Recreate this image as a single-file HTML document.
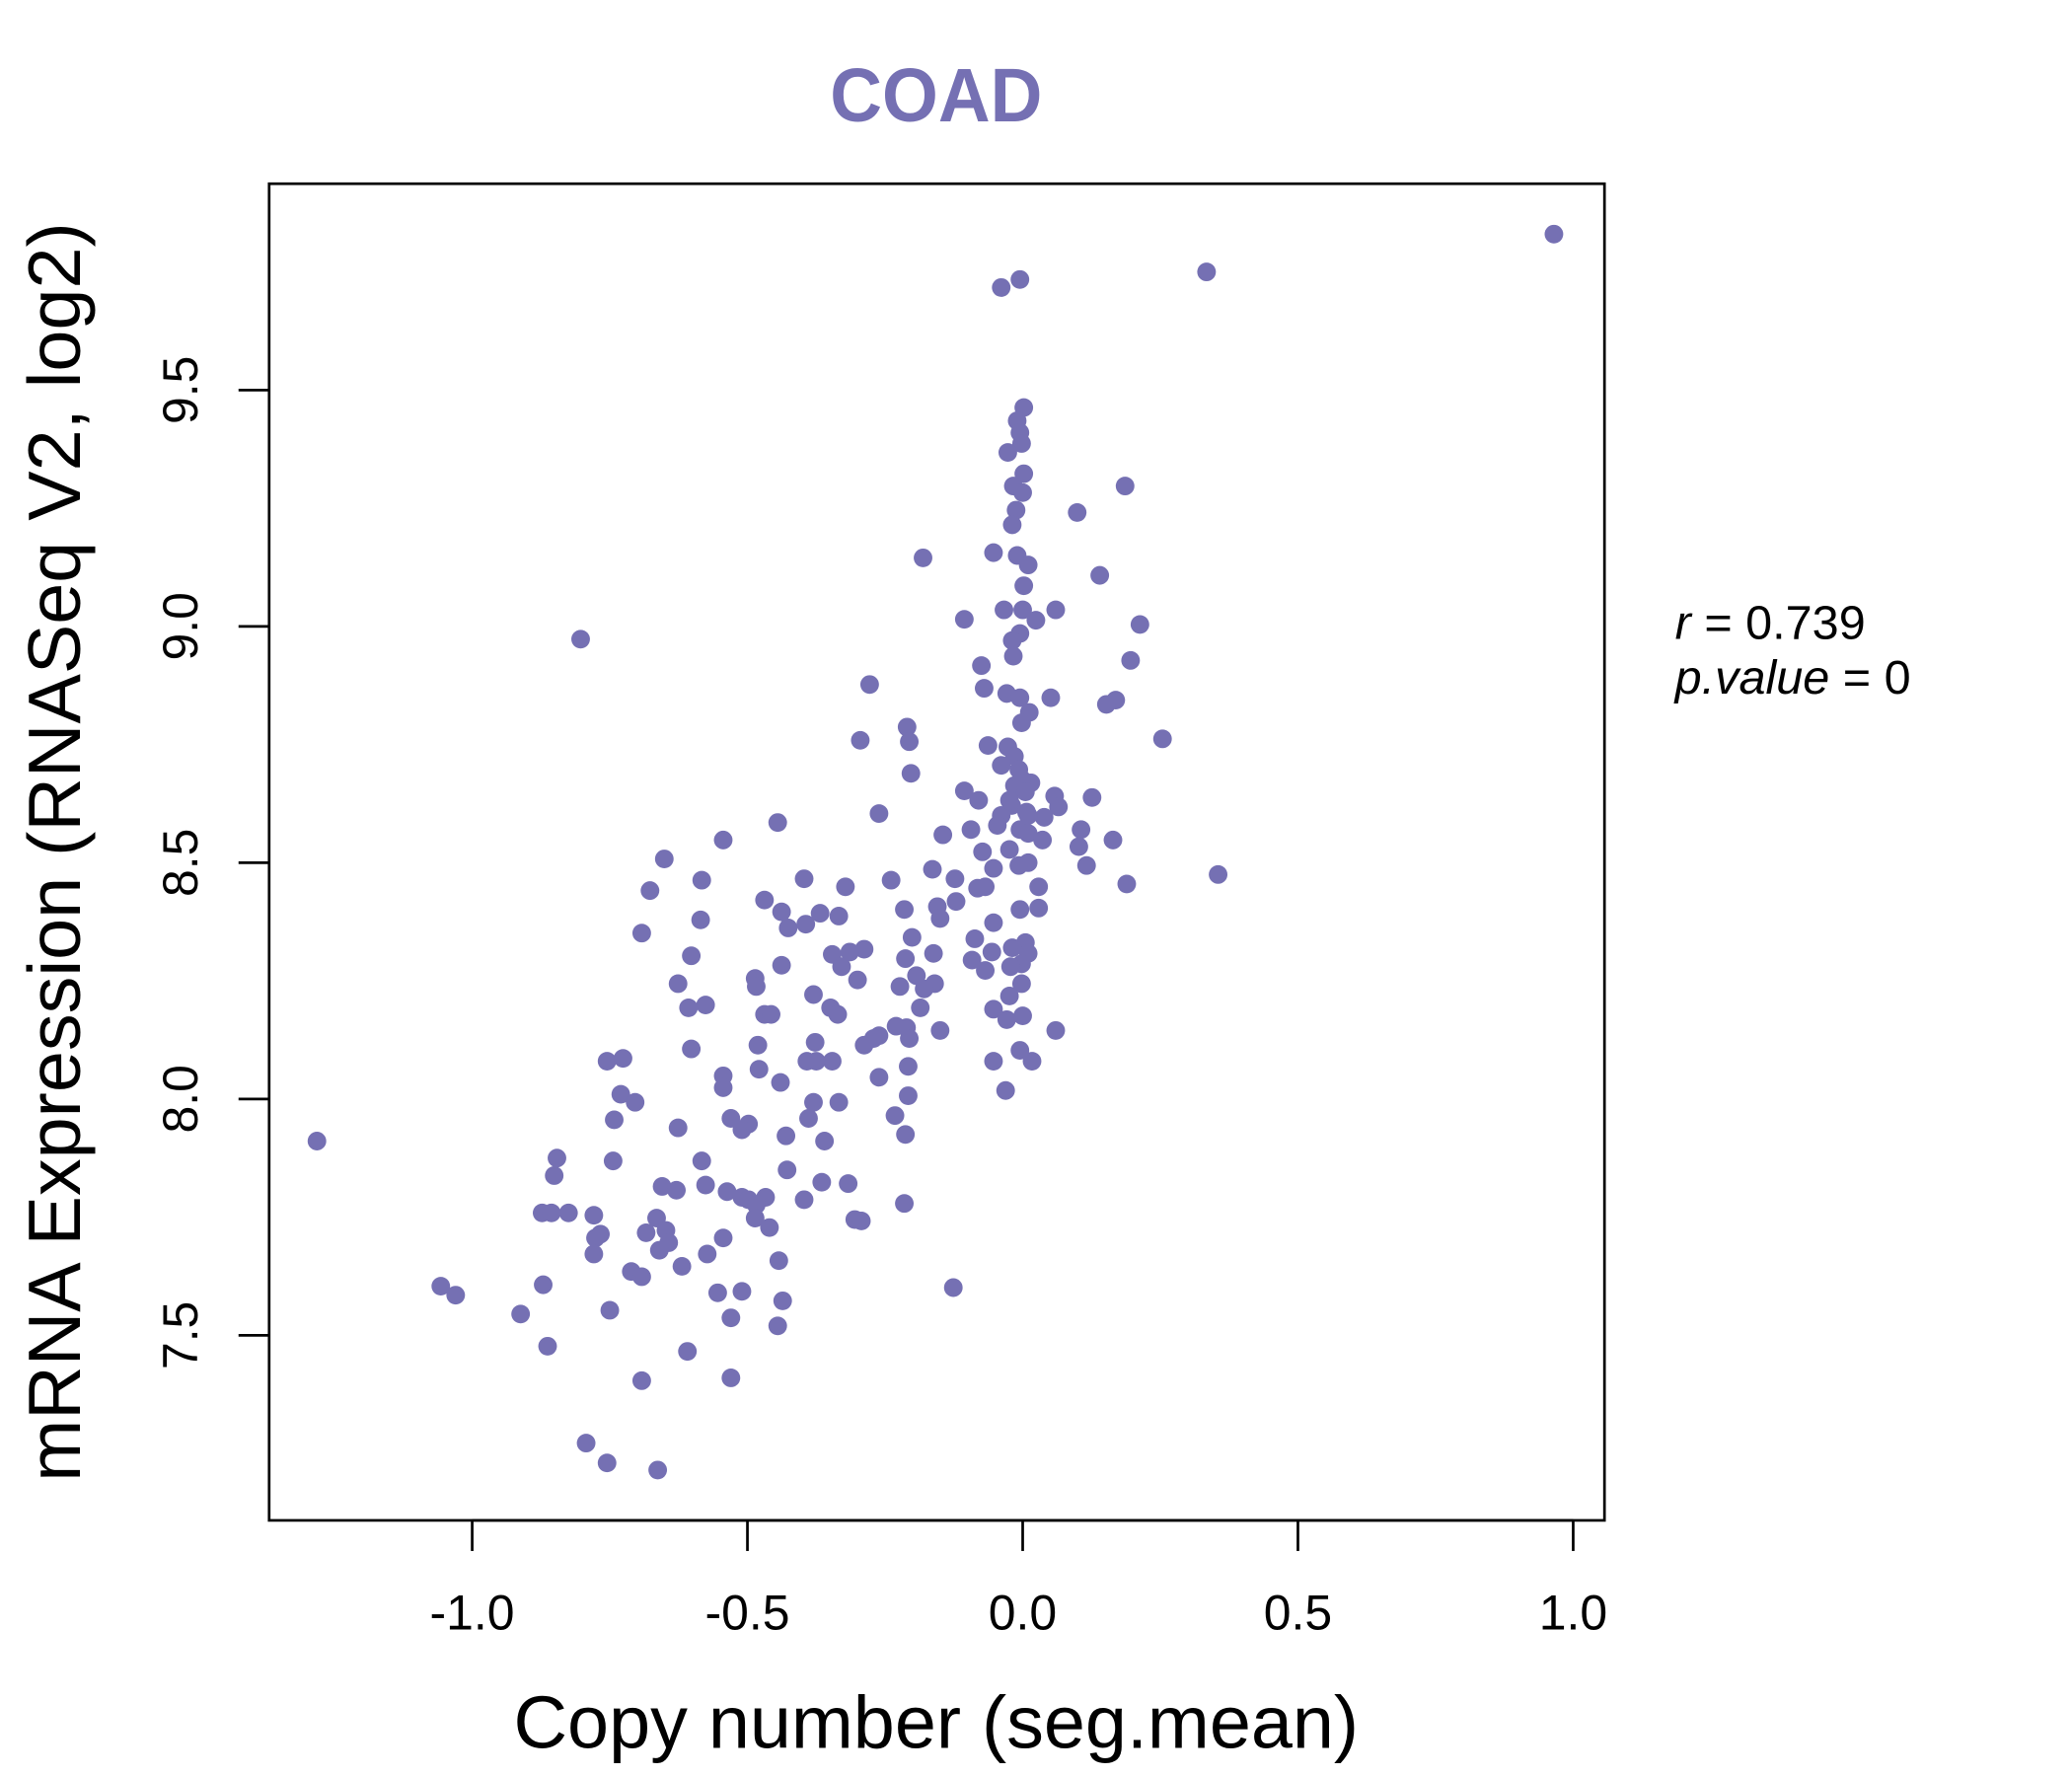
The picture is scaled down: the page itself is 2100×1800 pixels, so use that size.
<!DOCTYPE html>
<html><head><meta charset="utf-8"><style>html,body{margin:0;padding:0;background:#fff}svg{display:block}</style></head>
<body>
<svg id="chart" width="2100" height="1800" viewBox="0 0 1556 1334" xmlns="http://www.w3.org/2000/svg" font-family="Liberation Sans, sans-serif">
<rect width="1556" height="1334" fill="#fff"/>
<text x="703" y="91" text-anchor="middle" font-size="57" font-weight="bold" fill="#7570B3" transform="translate(703,0) scale(0.95,1) translate(-703,0)">COAD</text>
<rect x="202" y="138" width="1003" height="1004" fill="none" stroke="#000" stroke-width="2"/>
<g id="xaxis"></g>
<g id="yaxis"></g>
<g id="points"></g>
<text x="703" y="1313" text-anchor="middle" font-size="56">Copy number (seg.mean)</text>
<text transform="translate(60,640) rotate(-90)" text-anchor="middle" font-size="56">mRNA Expression (RNASeq V2, log2)</text>
<text x="1258" y="480" font-size="36"><tspan font-style="italic">r</tspan> = 0.739</text>
<text x="1258" y="521" font-size="36" font-style="italic">p.value <tspan font-style="normal">= 0</tspan></text>
</svg>
<script>
const xTicks = [-1.0, -0.5, 0.0, 0.5, 1.0];
const xTickLabels = ["-1.0", "-0.5", "0.0", "0.5", "1.0"];
const yTicks = [7.5, 8.0, 8.5, 9.0, 9.5];
const yTickLabels = ["7.5", "8.0", "8.5", "9.0", "9.5"];
const xs = [-1.282,0.965,0.334,-0.005,-0.039,-0.803,0.002,-0.01,-0.005,-0.002,-0.027,0.002,0.186,-0.017,0.0,-0.012,0.099,-0.019,-0.181,-0.053,-0.01,0.01,0.002,0.14,0.0,-0.106,-0.034,0.06,0.024,0.213,-0.005,-0.019,-0.017,0.196,-0.075,-0.278,-0.07,-0.029,-0.005,0.051,0.169,0.152,0.012,-0.002,-0.21,-0.206,-0.295,0.254,-0.063,-0.027,-0.015,-0.039,-0.007,-0.203,0.015,-0.015,-0.106,-0.08,0.058,-0.02,0.007,0.065,-0.039,0.126,-0.261,-0.445,0.039,-0.046,-0.094,-0.005,0.01,0.106,-0.145,0.164,-0.544,0.036,-0.024,-0.073,0.102,-0.651,0.01,0.116,-0.007,-0.053,-0.164,0.355,-0.397,-0.583,-0.239,0.189,-0.322,-0.068,0.029,-0.677,-0.123,-0.082,-0.469,-0.121,-0.155,-0.005,0.029,-0.215,-0.438,-0.368,-0.334,-0.15,-0.394,-0.585,-0.426,-0.053,-0.692,-0.201,-0.087,0.005,-0.019,-0.288,-0.314,0.01,-0.162,-0.056,-0.346,-0.602,-0.213,-0.092,-0.002,-0.022,-0.438,-0.068,-0.329,-0.3,-0.486,-0.626,-0.223,-0.160,-0.002,-0.484,-0.193,-0.024,-0.380,-0.179,-0.576,-0.607,-0.186,-0.349,-0.053,-0.469,-0.457,-0.336,0.0,-0.029,-0.23,-0.211,-0.150,0.06,-0.261,-0.271,-0.377,-0.206,-0.288,-0.481,-0.602,-0.005,-0.755,-0.726,-0.392,-0.346,0.017,-0.053,-0.375,-0.208,-0.479,-0.544,-0.44,-0.261,-0.544,-0.031,-0.73,-0.208,-0.704,-0.380,-0.334,-0.232,-0.742,-0.53,-0.389,-0.498,-0.510,-0.626,-0.43,-0.213,-0.36,-0.846,-0.744,-0.583,-0.428,-0.851,-0.317,-0.365,-0.655,-0.629,-0.576,-0.537,-0.510,-0.397,-0.467,-0.498,-0.215,-0.484,-0.873,-0.856,-0.825,-0.779,-0.665,-0.486,-0.305,-0.293,-0.46,-0.648,-0.684,-0.767,-0.643,-0.776,-0.544,-0.660,-0.779,-0.573,-0.443,-0.619,-0.711,-0.692,-0.126,-1.057,-0.871,-1.03,-0.554,-0.510,-0.436,-0.75,-0.912,-0.530,-0.445,-0.863,-0.609,-0.530,-0.692,-0.793,-0.755,-0.663,-0.002,0.005,-0.024,0.010];
const ys = [7.911,9.83,9.75,9.734,9.717,8.973,9.463,9.435,9.41,9.387,9.368,9.323,9.297,9.297,9.283,9.246,9.241,9.215,9.145,9.156,9.15,9.13,9.086,9.108,9.035,9.015,9.035,9.035,9.013,9.004,8.985,8.97,8.937,8.928,8.917,8.877,8.869,8.858,8.849,8.849,8.844,8.835,8.818,8.796,8.787,8.756,8.759,8.762,8.748,8.745,8.725,8.706,8.697,8.689,8.669,8.663,8.652,8.632,8.641,8.621,8.607,8.618,8.6,8.638,8.604,8.585,8.596,8.579,8.57,8.57,8.562,8.57,8.559,8.548,8.548,8.548,8.528,8.523,8.534,8.508,8.5,8.494,8.494,8.488,8.486,8.475,8.466,8.463,8.463,8.455,8.449,8.449,8.449,8.441,8.466,8.446,8.421,8.418,8.407,8.401,8.404,8.401,8.396,8.393,8.387,8.382,8.37,8.379,8.362,8.373,8.351,8.342,8.339,8.331,8.32,8.317,8.311,8.308,8.308,8.311,8.306,8.303,8.297,8.294,8.286,8.28,8.283,8.272,8.28,8.252,8.255,8.244,8.238,8.244,8.244,8.238,8.261,8.218,8.221,8.233,8.199,8.193,8.193,8.193,8.19,8.179,8.179,8.179,8.176,8.168,8.154,8.151,8.145,8.145,8.134,8.128,8.12,8.128,8.114,8.114,8.106,8.103,8.08,8.086,8.08,8.08,8.08,8.08,8.08,8.069,8.063,8.049,8.035,8.046,8.024,8.018,8.01,8.007,7.993,7.993,7.993,7.965,7.956,7.959,7.959,7.947,7.935,7.939,7.922,7.925,7.911,7.875,7.869,7.869,7.85,7.838,7.821,7.824,7.815,7.807,7.818,7.804,7.792,7.787,7.792,7.787,7.779,7.776,7.759,7.759,7.759,7.754,7.748,7.748,7.745,7.742,7.728,7.722,7.717,7.714,7.696,7.706,7.706,7.68,7.672,7.672,7.658,7.646,7.635,7.624,7.601,7.604,7.607,7.585,7.59,7.593,7.573,7.553,7.545,7.537,7.52,7.477,7.466,7.41,7.404,7.272,7.23,7.215,8.677,8.65,8.632,8.6];

const NS = "http://www.w3.org/2000/svg";
function sx(v){ return 768 + v * 413.5; }
function sy(v){ return 293 + (9.5 - v) * 355; }

const xg = document.getElementById('xaxis');
const yg = document.getElementById('yaxis');
const axisX = document.createElementNS(NS,'line');
axisX.setAttribute('x1', sx(xTicks[0])); axisX.setAttribute('x2', sx(xTicks[xTicks.length-1]));
axisX.setAttribute('y1', 1142); axisX.setAttribute('y2', 1142);
axisX.setAttribute('stroke','#000'); axisX.setAttribute('stroke-width','2');


xg.appendChild(axisX);
xTicks.forEach((t,i)=>{
  const l = document.createElementNS(NS,'line');
  l.setAttribute('x1', sx(t)); l.setAttribute('x2', sx(t));
  l.setAttribute('y1', 1142); l.setAttribute('y2', 1165);
  l.setAttribute('stroke','#000'); l.setAttribute('stroke-width','2');
  
  
  xg.appendChild(l);
  const tx = document.createElementNS(NS,'text');
  tx.setAttribute('x', sx(t)); tx.setAttribute('y', 1224);
  tx.setAttribute('text-anchor','middle'); tx.setAttribute('font-size','37');
  tx.textContent = xTickLabels[i];
  
  
  xg.appendChild(tx);
});
yTicks.forEach((t,i)=>{
  const l = document.createElementNS(NS,'line');
  l.setAttribute('x1', 179); l.setAttribute('x2', 202);
  l.setAttribute('y1', sy(t)); l.setAttribute('y2', sy(t));
  l.setAttribute('stroke','#000'); l.setAttribute('stroke-width','2');
  
  
  yg.appendChild(l);
  const tx = document.createElementNS(NS,'text');
  tx.setAttribute('transform', 'translate(148,' + sy(t) + ') rotate(-90)');
  tx.setAttribute('text-anchor','middle'); tx.setAttribute('font-size','37');
  tx.textContent = yTickLabels[i];
  
  
  yg.appendChild(tx);
});
const pg = document.getElementById('points');
xs.forEach((x,i)=>{
  const c = document.createElementNS(NS,'circle');
  c.setAttribute('cx', sx(x)); c.setAttribute('cy', sy(ys[i]));
  c.setAttribute('r', 7); c.setAttribute('fill', '#7570B3');
  
  
  pg.appendChild(c);
});
</script>
</body></html>
